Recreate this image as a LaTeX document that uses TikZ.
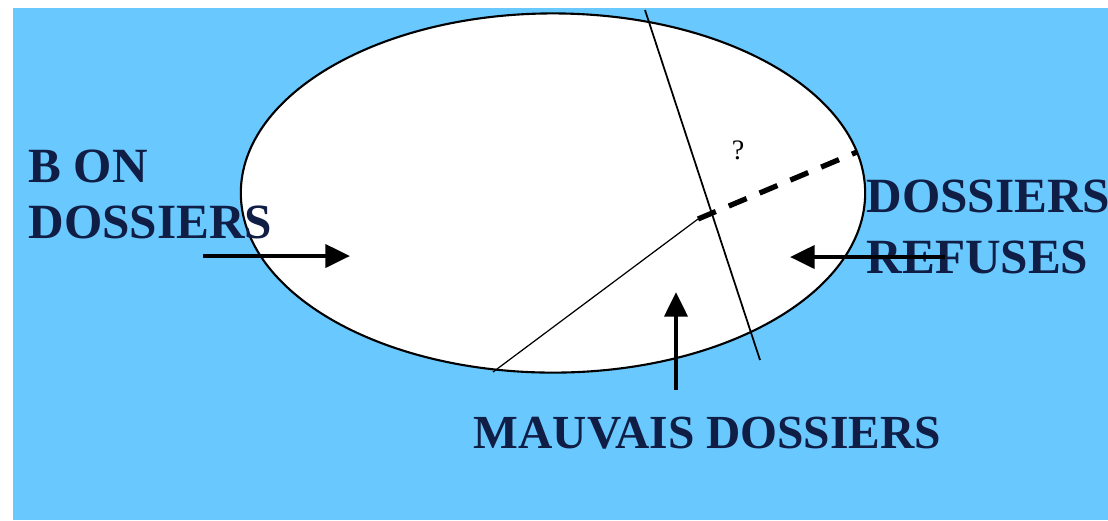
\documentclass[tikz,border=0pt]{standalone}
\usepackage{fontspec}
\setmainfont{Liberation Serif}
\usetikzlibrary{shapes.geometric,arrows.meta}
\definecolor{skyback}{RGB}{105,201,255}
\definecolor{navytext}{RGB}{16,30,70}
\begin{document}
\begin{tikzpicture}[x=0.01cm, y=-0.01cm,
  oval/.style={ellipse, draw=black, line width=0.6pt, fill=white,
               minimum width=6.24cm, minimum height=3.59cm, inner sep=0pt},
  caption/.style={font=\fontsize{14}{16}\selectfont\bfseries, text=navytext,
                  inner sep=0pt, anchor=base west},
  pointer/.style={-{Triangle[length=7pt,width=6.5pt]}, line width=1.2pt, black},
  cut/.style={black, line width=0.5pt},
]
\useasboundingbox (0,0) rectangle (1108,520);
\fill[skyback] (13,8) rectangle (1108,520);

\node[oval] (pool) at (553,193) {};

% the two dividing lines
\coordinate (cut-top) at (645,10);
\coordinate (cut-bot) at (760,360);
\coordinate (low-end) at (493,372);
\coordinate (split) at (698,219);
\coordinate (rim) at (857,152);
\draw[cut] (cut-top) -- (cut-bot);
\draw[cut, line width=0.35pt] (low-end) -- (split);
\draw[line width=1.5pt, dash pattern=on 5.5pt off 4pt] (split) -- (rim);
\node[font=\fontsize{8}{9}\selectfont, inner sep=0pt] (query) at (738,150) {?};

\node[caption] (bon-a) at (28,182) {B ON};
\node[caption] (bon-b) at (28,238) {DOSSIERS};
\node[caption] (ref-a) at (866,212) {DOSSIERS};
\node[caption] (ref-b) at (866,273) {REFUSES};
\node[caption, font=\fontsize{13.5}{15}\selectfont\bfseries] (mauv) at (473,448) {MAUVAIS DOSSIERS};

\coordinate (bon-tail) at (203,256);
\coordinate (bon-tip) at (350,256);
\coordinate (ref-tail) at (945,257);
\coordinate (ref-tip) at (790,257);
\coordinate (mauv-tail) at (676,390);
\coordinate (mauv-tip) at (676,292);
\draw[pointer] (bon-tail) -- (bon-tip);
\draw[pointer] (ref-tail) -- (ref-tip);
\draw[pointer] (mauv-tail) -- (mauv-tip);
\end{tikzpicture}
\end{document}
